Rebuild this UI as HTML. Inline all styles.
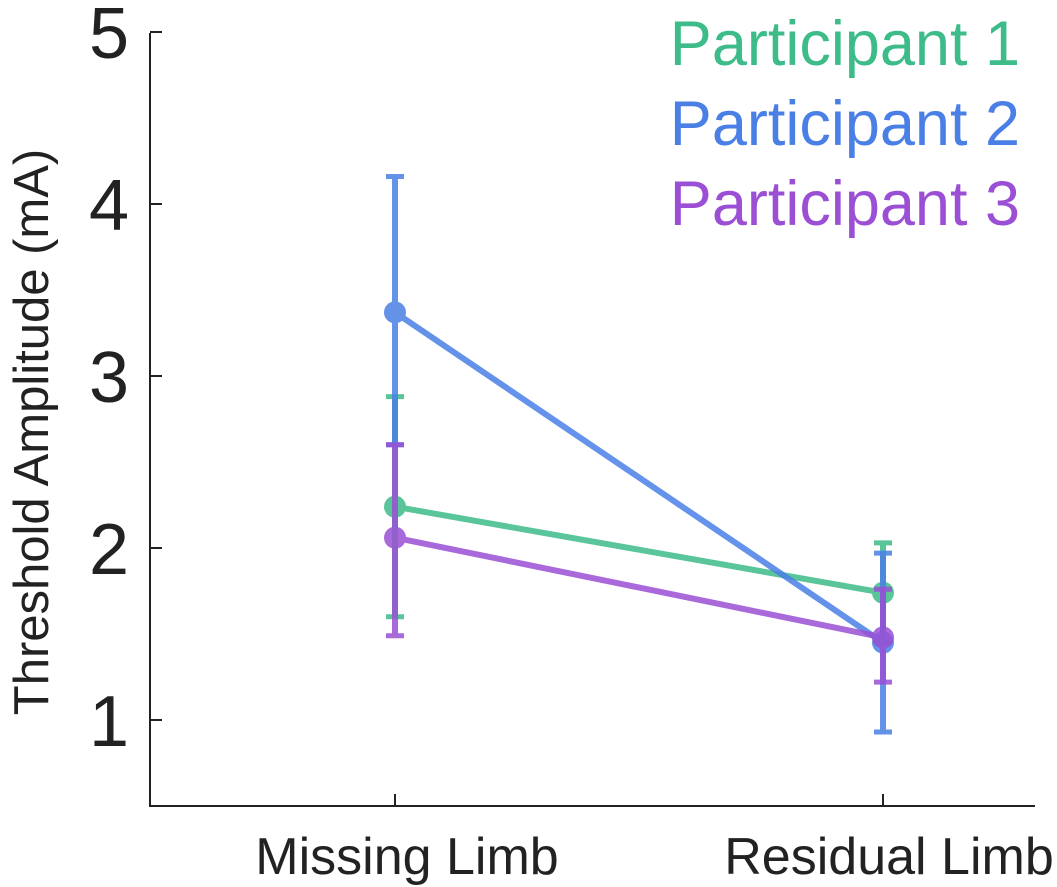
<!DOCTYPE html>
<html><head><meta charset="utf-8"><style>
html,body{margin:0;padding:0;background:#fff;}
svg{display:block;font-family:"Liberation Sans",sans-serif;}
</style></head><body>
<svg id="chart" width="1057" height="887"></svg>
<script>
const categories=["Missing Limb","Residual Limb"];
const seriesNames=["Participant 1","Participant 2","Participant 3"];
const means1=[2.24,1.74];const lo1=[1.6,1.45];const hi1=[2.88,2.03];
const means2=[3.37,1.45];const lo2=[2.6,0.93];const hi2=[4.16,1.97];
const means3=[2.06,1.48];const lo3=[1.49,1.22];const hi3=[2.6,1.76];
const yTicks=[1,2,3,4,5];
const colors=["#3dbb88","#4a7fe6","#9a4fd4"];
const NS="http://www.w3.org/2000/svg";
const svg=document.getElementById("chart");
const y=v=>720-(v-1)*172;
const xs=[395,883];
const x=i=>xs[i];
function mk(t,a,p){const e=document.createElementNS(NS,t);for(const k in a)e.setAttribute(k,a[k]);(p||svg).appendChild(e);return e;}
const axes=mk("g",{});


const ya=mk("line",{x1:150,y1:33,x2:150,y2:807,stroke:"#222","stroke-width":2},axes);


const xa=mk("line",{x1:149,y1:806,x2:1035,y2:806,stroke:"#222","stroke-width":2},axes);


yTicks.forEach(v=>{
 mk("line",{x1:150,y1:y(v),x2:162,y2:y(v),stroke:"#222","stroke-width":2},axes);
 const t=mk("text",{x:129,y:y(v)+26,"text-anchor":"end","font-size":72,fill:"#222"},axes);
 t.textContent=v;
 
 
});
const labelCx=[407,889];
categories.forEach((c,i)=>{
 mk("line",{x1:x(i),y1:806,x2:x(i),y2:794,stroke:"#222","stroke-width":2},axes);
 const t=mk("text",{x:labelCx[i],y:874,"text-anchor":"middle","font-size":52,fill:"#222"},axes);
 t.textContent=c;
 
 
});
const yt=mk("text",{x:0,y:0,transform:"translate(48,432) rotate(-90)","text-anchor":"middle","font-size":49,fill:"#222"});
yt.textContent="Threshold Amplitude (mA)";


const all=[[means1,lo1,hi1],[means2,lo2,hi2],[means3,lo3,hi3]];
all.forEach((s,k)=>{
 const g=mk("g",{opacity:0.85});
 
 
 const [m,lo,hi]=s;
 for(let i=0;i<m.length;i++){
  mk("line",{x1:x(i),y1:y(lo[i]),x2:x(i),y2:y(hi[i]),stroke:colors[k],"stroke-width":6},g);
  mk("line",{x1:x(i)-9,y1:y(lo[i]),x2:x(i)+9,y2:y(lo[i]),stroke:colors[k],"stroke-width":5},g);
  mk("line",{x1:x(i)-9,y1:y(hi[i]),x2:x(i)+9,y2:y(hi[i]),stroke:colors[k],"stroke-width":5},g);
 }
 const pl=mk("polyline",{points:m.map((v,i)=>x(i)+","+y(v)).join(" "),fill:"none",stroke:colors[k],"stroke-width":6},g);
 
 
 m.forEach((v,i)=>{
  const c=mk("circle",{cx:x(i),cy:y(v),r:11,fill:colors[k]},g);
  
  
 });
});
seriesNames.forEach((n,k)=>{
 const t=mk("text",{x:1020,y:65+k*80,"text-anchor":"end","font-size":63,fill:colors[k]});
 t.textContent=n;
 
 
});
</script>
</body></html>
